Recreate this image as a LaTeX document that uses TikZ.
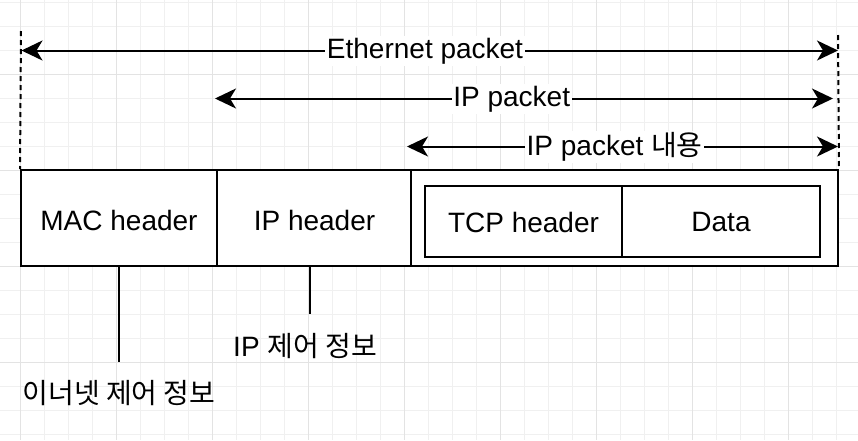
\documentclass[tikz,border=0pt]{standalone}
\usepackage{fontspec}
\setmainfont{Liberation Sans}
\newfontfamily\kr{Noto Sans CJK KR}
\usetikzlibrary{arrows.meta}
\begin{document}
\begin{tikzpicture}[x=1pt,y=-1pt,
  gridminor/.style={draw=black!6,line width=1pt},
  gridmajor/.style={draw=black!11,line width=1pt},
  boxst/.style={draw=black,line width=2pt,fill=white,inner sep=0pt,minimum height=96pt},
  inbox/.style={draw=black,line width=2pt,fill=white,inner sep=0pt,minimum height=71pt},
  txt/.style={font=\fontsize{28}{32}\selectfont,inner sep=0pt},
  lbl/.style={txt,fill=white,inner xsep=1.5pt,inner ysep=2pt},
  dimarrow/.style={line width=2pt,{Stealth[length=21pt,width=20pt,inset=6pt]}-{Stealth[length=21pt,width=20pt,inset=6pt]}},
  guide/.style={line width=2pt,dash pattern=on 5pt off 4pt},
  lead/.style={line width=2pt}]
\useasboundingbox (0,0) rectangle (858,440);
\fill[white] (0,0) rectangle (858,440);
% grid
\foreach \k in {0,...,36} \draw[gridminor] ({-3.3+24*\k},0) -- ({-3.3+24*\k},440);
\foreach \k in {0,...,18} \draw[gridminor] (0,{2+24*\k}) -- (858,{2+24*\k});
\foreach \k in {0,...,8} \draw[gridmajor] ({20.7+96*\k},0) -- ({20.7+96*\k},440);
\foreach \k in {1,...,4} \draw[gridmajor] (0,{-22+96*\k}) -- (858,{-22+96*\k});
% boxes
\node[boxst,minimum width=197pt] (mac) at (119.5,218) {};
\node[boxst,minimum width=194pt] (iph) at (314,218) {};
\node[boxst,minimum width=427pt] (pay) at (624.5,218) {};
\node[inbox,minimum width=197pt] (tcp) at (523.5,221.5) {};
\node[inbox,minimum width=198pt] (data) at (721,221.5) {};
\node[txt] at (119,220) {MAC header};
\node[txt] at (314.5,220) {IP header};
\node[txt] at (523.5,222) {TCP header};
\node[txt] at (721,222) {Data};
% guides
\coordinate (gl) at (21,31);
\coordinate (gr) at (838,35);
\draw[guide] (gl) -- (mac.north west);
\draw[guide] (gr) -- (pay.north east);
% dimension arrows
\coordinate (eL) at (21.5,50.5);
\coordinate (eR) at (838,50.5);
\coordinate (iL) at (215,98.5);
\coordinate (iR) at (833,98.5);
\coordinate (cL) at (407,146.5);
\coordinate (cR) at (838,146.5);
\draw[dimarrow] (eL) -- (eR);
\draw[dimarrow] (iL) -- (iR);
\draw[dimarrow] (cL) -- (cR);
\node[lbl] (eth) at (425,51) {Ethernet packet};
\node[lbl] (ipp) at (511.7,99) {IP packet};
\node[lbl] (ipc) at (614.7,147) {IP packet {\kr 내용}};
% leaders
\coordinate (m1) at (119,362);
\coordinate (m2) at (310,314);
\draw[lead] (119,266) -- (m1);
\draw[lead] (310,266) -- (m2);
\node[txt] (ethinfo) at (119,393) {\kr 이너넷 제어 정보};
\node[txt] (ipinfo) at (305,346.5) {IP {\kr 제어 정보}};
\end{tikzpicture}
\end{document}
